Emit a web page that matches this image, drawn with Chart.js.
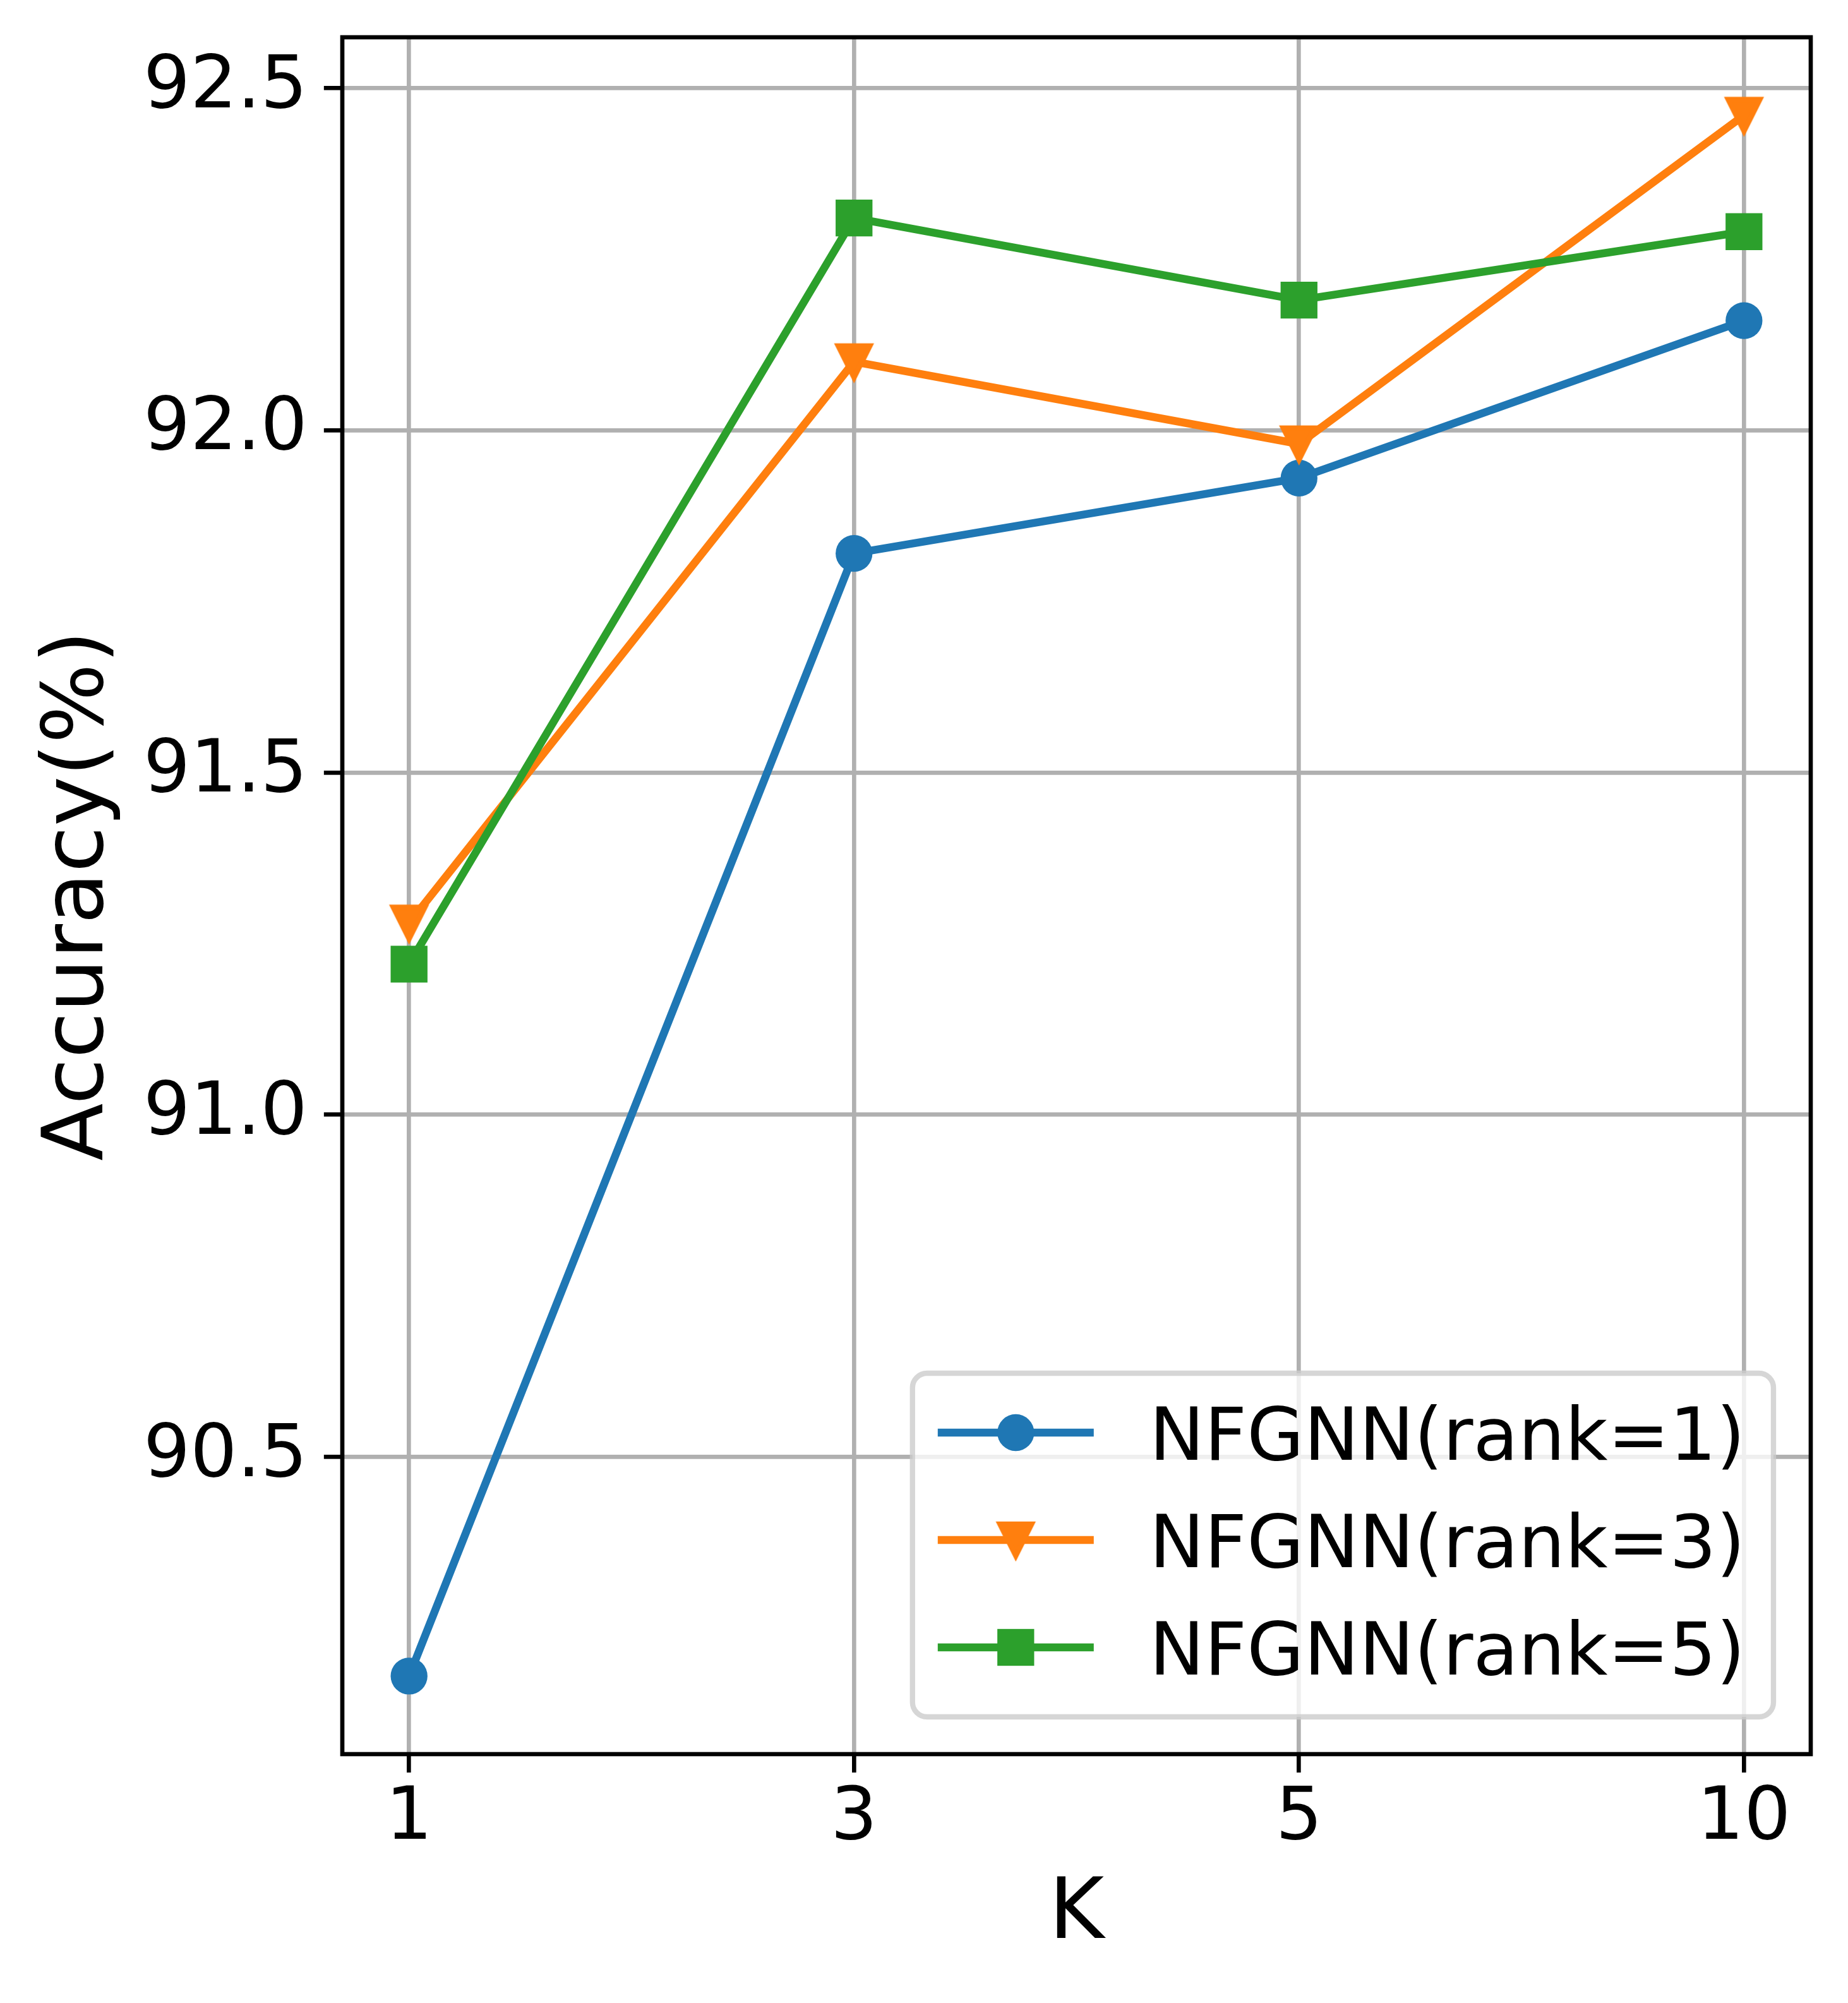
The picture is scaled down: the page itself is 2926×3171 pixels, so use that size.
<!DOCTYPE html>
<html>
<head>
<meta charset="utf-8">
<script src="https://cdn.jsdelivr.net/npm/chart.js@4.4.1/dist/chart.umd.min.js"></script>
<style>
  html, body { margin: 0; padding: 0; background: #fff; }
  #accChart { display: block; }
</style>
</head>
<body>
<canvas id="accChart" width="2926" height="3171" style="width:2926px;height:3171px"></canvas>
<script>
// Data
const kLabels = ['1', '3', '5', '10'];
const seriesNames = ['NFGNN(rank=1)', 'NFGNN(rank=3)', 'NFGNN(rank=5)'];
const rank1 = [90.18, 91.82, 91.93, 92.16];
const rank3 = [91.28, 92.10, 91.98, 92.46];
const rank5 = [91.22, 92.31, 92.19, 92.29];
const yTicks = [90.5, 91.0, 91.5, 92.0, 92.5];

// Figure was saved at 600 dpi, so one point is 600/72 px
const PT = 600 / 72;
const FONT = '"DejaVu Sans", "Liberation Sans", sans-serif';
const colors = ['#1f77b4', '#ff7f0e', '#2ca02c'];
const seriesValues = [rank1, rank3, rank5];

// matplotlib 'v' marker (6pt + 1pt edge), drawn once into a small canvas
function makeTriangleDown(color) {
    const half = 3 * PT;
    const edge = 1 * PT;
    const size = 2 * Math.ceil(half + 2 * edge);
    const c = document.createElement('canvas');
    c.width = size;
    c.height = size;
    const g = c.getContext('2d');
    const m = size / 2;
    g.beginPath();
    g.moveTo(m, m + half);
    g.lineTo(m - half, m - half);
    g.lineTo(m + half, m - half);
    g.closePath();
    g.fillStyle = color;
    g.fill();
    g.lineWidth = edge;
    g.lineJoin = 'miter';
    g.strokeStyle = color;
    g.stroke();
    return c;
}

const markers = ['circle', makeTriangleDown(colors[1]), 'rect'];
const markerRadius = [3.5 * PT, 3.5 * PT, 3.5 * PT * Math.SQRT2];

// y limits with matplotlib's 5% margin
const allValues = [].concat(rank1, rank3, rank5);
const yLo = Math.min(...allValues);
const yHi = Math.max(...allValues);
const yPad = 0.05 * (yHi - yLo);

function drawMarker(ctx, style, radius, color, x, y) {
    ctx.save();
    ctx.fillStyle = color;
    if (style instanceof HTMLCanvasElement) {
        ctx.drawImage(style, x - style.width / 2, y - style.height / 2);
    } else if (style === 'rect') {
        const s = radius * Math.SQRT1_2;
        ctx.fillRect(x - s, y - s, 2 * s, 2 * s);
    } else {
        ctx.beginPath();
        ctx.arc(x, y, radius, 0, Math.PI * 2);
        ctx.fill();
    }
    ctx.restore();
}

// Black frame on all four sides, above the lines
const framePlugin = {
    id: 'axesFrame',
    afterDatasetsDraw(chart) {
        const { ctx, chartArea: a } = chart;
        ctx.save();
        ctx.lineWidth = 0.8 * PT;
        ctx.strokeStyle = '#000';
        ctx.lineJoin = 'miter';
        ctx.strokeRect(a.left, a.top, a.right - a.left, a.bottom - a.top);
        ctx.restore();
    }
};

// Legend box in the lower right corner of the plot
const legendPlugin = {
    id: 'cornerLegend',
    afterDraw(chart) {
        const { ctx, chartArea: a } = chart;
        const datasets = chart.data.datasets;
        const fs = 14 * PT;
        ctx.save();
        ctx.font = fs + 'px ' + FONT;
        const textW = Math.max(...datasets.map(d => ctx.measureText(d.label).width));

        const right = a.right - 59;
        const bottom = a.bottom - 59;
        const rowGap = 170;
        const textRight = right - 45;
        const textLeft = textRight - textW;
        const lineEnd = textLeft - 88;
        const lineStart = lineEnd - 247;
        const left = lineStart - 40;
        const lastRow = bottom - 110;
        const firstRow = lastRow - (datasets.length - 1) * rowGap;
        const top = firstRow - 94;

        ctx.beginPath();
        ctx.roundRect(left, top, right - left, bottom - top, 23);
        ctx.fillStyle = 'rgba(255, 255, 255, 0.8)';
        ctx.fill();
        ctx.lineWidth = 1 * PT;
        ctx.strokeStyle = 'rgba(204, 204, 204, 0.8)';
        ctx.stroke();

        datasets.forEach((d, i) => {
            const y = firstRow + i * rowGap;
            ctx.beginPath();
            ctx.moveTo(lineStart, y);
            ctx.lineTo(lineEnd, y);
            ctx.lineWidth = 1.5 * PT;
            ctx.strokeStyle = d.borderColor;
            ctx.stroke();
            drawMarker(ctx, d.pointStyle, d.pointRadius, d.borderColor, (lineStart + lineEnd) / 2, y);
            ctx.fillStyle = '#000';
            ctx.textAlign = 'left';
            ctx.textBaseline = 'alphabetic';
            ctx.fillText(d.label, textLeft, y + 0.3645 * fs);
        });
        ctx.restore();
    }
};

const datasets = seriesValues.map((vals, i) => ({
    label: seriesNames[i],
    data: vals.map((v, j) => ({ x: j, y: v })),
    borderColor: colors[i],
    backgroundColor: colors[i],
    borderWidth: 1.5 * PT,
    borderJoinStyle: 'round',
    pointStyle: markers[i],
    pointRadius: markerRadius[i],
    pointBorderWidth: 0,
    pointBackgroundColor: colors[i],
    tension: 0,
    fill: false,
    order: seriesValues.length - i // later series drawn on top
}));

const tickFont = { family: FONT, size: 14 * PT, lineHeight: 1.2 };
const titleFont = { family: FONT, size: 16 * PT, lineHeight: 1.2 };
const gridStyle = {
    color: '#b0b0b0',
    lineWidth: 0.8 * PT,
    tickColor: '#000',
    tickWidth: 0.8 * PT,
    tickLength: 3.5 * PT
};

new Chart(document.getElementById('accChart'), {
    type: 'line',
    data: { datasets: datasets },
    options: {
        responsive: false,
        devicePixelRatio: 1,
        animation: false,
        events: [],
        layout: { padding: { top: 59, right: 59, bottom: 0, left: 0 } },
        plugins: {
            legend: { display: false },
            tooltip: { enabled: false }
        },
        scales: {
            x: {
                type: 'linear',
                min: -0.05 * (kLabels.length - 1),
                max: (kLabels.length - 1) * 1.05,
                afterBuildTicks: scale => { scale.ticks = kLabels.map((_, i) => ({ value: i })); },
                afterFit: scale => {
                    scale.height = 394;
                    scale.paddingLeft = 0;
                    scale.paddingRight = 0;
                },
                ticks: {
                    callback: value => kLabels[value],
                    font: tickFont,
                    color: '#000',
                    padding: 5,
                    maxRotation: 0,
                    autoSkip: false
                },
                grid: gridStyle,
                border: { display: false },
                title: {
                    display: true,
                    text: 'K',
                    font: titleFont,
                    color: '#000',
                    padding: { top: 0, bottom: 58 }
                }
            },
            y: {
                type: 'linear',
                min: yLo - yPad,
                max: yHi + yPad,
                afterBuildTicks: scale => { scale.ticks = yTicks.map(v => ({ value: v })); },
                afterFit: scale => {
                    scale.width = 542;
                    scale.paddingTop = 0;
                    scale.paddingBottom = 0;
                },
                ticks: {
                    callback: value => value.toFixed(1),
                    font: tickFont,
                    color: '#000',
                    padding: 26
                },
                grid: gridStyle,
                border: { display: false },
                title: {
                    display: true,
                    text: 'Accuracy(%)',
                    font: titleFont,
                    color: '#000',
                    padding: { top: 47, bottom: 0 }
                }
            }
        }
    },
    plugins: [framePlugin, legendPlugin]
});
</script>
</body>
</html>
